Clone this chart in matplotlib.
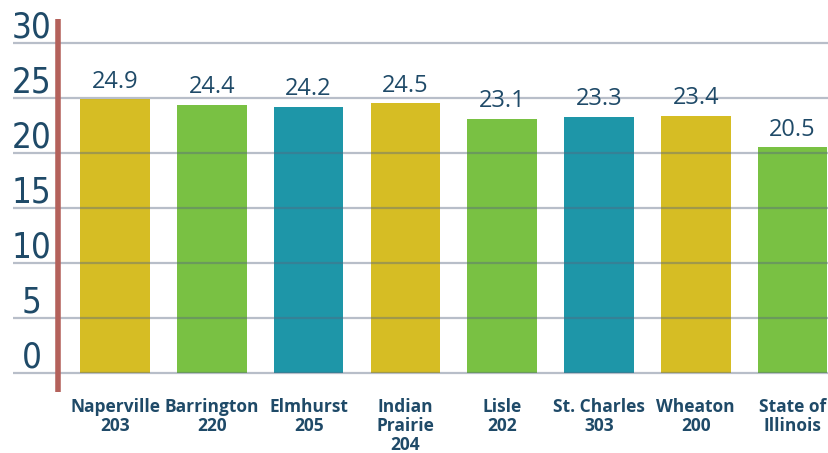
import matplotlib
matplotlib.use("Agg")
import matplotlib.pyplot as plt
from matplotlib import font_manager as fm

categories = ["Naperville\n203", "Barrington\n220", "Elmhurst\n205", "Indian\nPrairie\n204",
              "Lisle\n202", "St. Charles\n303", "Wheaton\n200", "State of\nIllinois"]
values = [24.9, 24.4, 24.2, 24.5, 23.1, 23.3, 23.4, 20.5]
value_labels = ["24.9", "24.4", "24.2", "24.5", "23.1", "23.3", "23.4", "20.5"]
yticks = [0, 5, 10, 15, 20, 25, 30]

YELLOW = "#D6BD24"
GREEN = "#79C143"
TEAL = "#1E96A8"
colors = [YELLOW, GREEN, TEAL, YELLOW, GREEN, TEAL, YELLOW, GREEN]
NAVY = "#1F4A68"

# pick a condensed font if available
cond_fp = None
for f in fm.fontManager.ttflist:
    n = f.fname.lower()
    if "condensed" in n and "bold" not in n and "oblique" not in n and "italic" not in n:
        if "roboto" in n or "dejavusans" in n.replace("-", "").replace("_", ""):
            cond_fp = fm.FontProperties(fname=f.fname)
            break
if cond_fp is None:
    cond_fp = fm.FontProperties(family="DejaVu Sans")

fig = plt.figure(figsize=(8.29, 4.53), dpi=100)
W, H = 829, 453
# axes: pixel x 13..829, y 19..392
ax = fig.add_axes([13 / W, (H - 392) / H, (829 - 13) / W, (392 - 19) / H])
ax.set_xlim(-1.054, 7.376)
ax.set_ylim(-1.73, 32.18)
ax.axis("off")

x = list(range(len(values)))
ax.bar(x, values, width=0.72, color=colors, zorder=2)

for yt in yticks:
    ax.axhline(yt, color="#56657f", alpha=0.42, lw=1.6, zorder=3)
    fp = cond_fp.copy()
    fp.set_size(25)
    ax.text(-0.86, yt + 1.45, str(yt), ha="center", va="center", fontproperties=fp,
            color=NAVY, zorder=4)

ax.axvline(-0.589, color="#B4615B", lw=4, zorder=4)

for xi, v, lab in zip(x, values, value_labels):
    ax.annotate(lab, (xi, v), xytext=(0, 4), textcoords="offset points",
                ha="center", va="bottom", fontsize=17, family="Open Sans",
                color=NAVY, zorder=5)

for xi, c in zip(x, categories):
    ax.text(xi, -2.3, c, ha="center", va="top", fontsize=12.5, family="Open Sans",
            fontweight="bold", color=NAVY, linespacing=1.05, clip_on=False)

fig.savefig("out.png", dpi=100)
